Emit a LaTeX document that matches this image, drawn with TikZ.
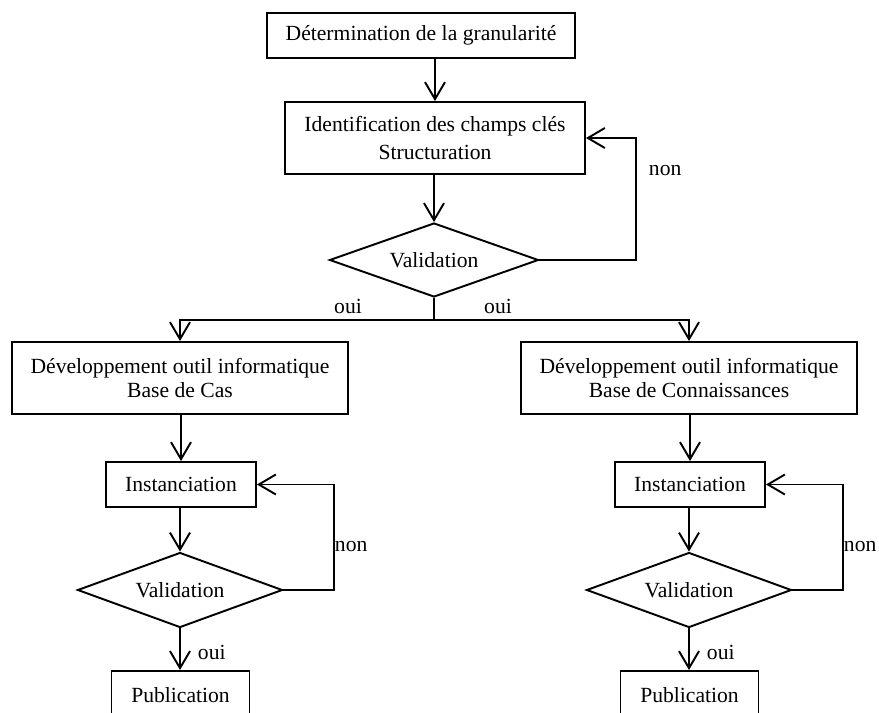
\documentclass[tikz,border=0pt]{standalone}
\usepackage{fontspec}
\setmainfont{Liberation Serif}
\usetikzlibrary{shapes.geometric,arrows.meta}

\begin{document}
\begin{tikzpicture}[x=0.02cm, y=-0.02cm, line width=1.1pt,
  font=\fontsize{12.3}{15.4}\selectfont,
  boite/.style 2 args={draw, rectangle, inner sep=0pt, align=center,
    minimum width=#1, minimum height=#2},
  losange/.style 2 args={draw, diamond, aspect=2.8, inner sep=0pt,
    minimum width=#1, minimum height=#2},
  fl/.style={-{Straight Barb[length=3.4mm, width=4mm]}},
  lbl/.style={inner sep=0pt}]
% page frame: the two Publication boxes run off the bottom edge
\useasboundingbox (0,0) rectangle (879,713);
\clip (0,0) rectangle (879,713);
% upper part
\node[boite={6.16cm}{0.9cm}] (gran) at (421,35.5) {D\'etermination de la granularit\'e};
\node[boite={6cm}{1.44cm}] (ident) at (435,138) {Identification des champs cl\'es\\Structuration};
\node[losange={4.18cm}{1.48cm}] (valid) at (434,260) {Validation};
\draw[fl] (ident.north |- gran.south) -- (ident.north);
\draw[fl] (valid.north |- ident.south) -- (valid.north);
\draw[fl] (valid.east) -- ++(97,0) |- (ident.east);
\node[lbl, anchor=west] (non) at (648,171) {non};
\draw (valid.south) -- ++(0,22) coordinate (split);
\node[lbl] (ouiA) at (348,306) {oui};
\node[lbl] (ouiB) at (498,306) {oui};
% the two branches: #1 x of the branch, #2 suffix of the names
\newcommand{\branche}[2]{%
  \node[boite={3cm}{0.9cm}] (inst#2) at (#1+1,484.5) {Instanciation};
  \node[losange={4.1cm}{1.5cm}] (val#2) at (#1,590) {Validation};
  \node[boite={2.76cm}{0.96cm}] (pub#2) at (#1+0.5,695) {Publication};
  \draw[fl] (inst#2.north |- dev#2.south) -- (inst#2.north);
  \draw[fl] (val#2.north |- inst#2.south) -- (val#2.north);
  \draw[fl] (val#2.east) -- ++(50.5,0) |- (inst#2.east);
  \node[lbl, anchor=west] (non#2) at (#1+154,547) {non};
  \draw[fl] (val#2.south) -- (pub#2.north -| val#2.south);
  \node[lbl, anchor=west] (oui#2) at (#1+17,652) {oui};}
\node[boite={6.72cm}{1.44cm}, font=\fontsize{12.3}{13.3}\selectfont] (devA) at (180,378)
  {D\'eveloppement outil informatique\\Base de Cas};
\node[boite={6.72cm}{1.44cm}, font=\fontsize{12.3}{13.3}\selectfont] (devB) at (689,378)
  {D\'eveloppement outil informatique\\Base de Connaissances};
\draw[fl] (split) -| (devA.north);
\draw[fl] (split) -| (devB.north);
\branche{180}{A}
\branche{689}{B}
\end{tikzpicture}
\end{document}
